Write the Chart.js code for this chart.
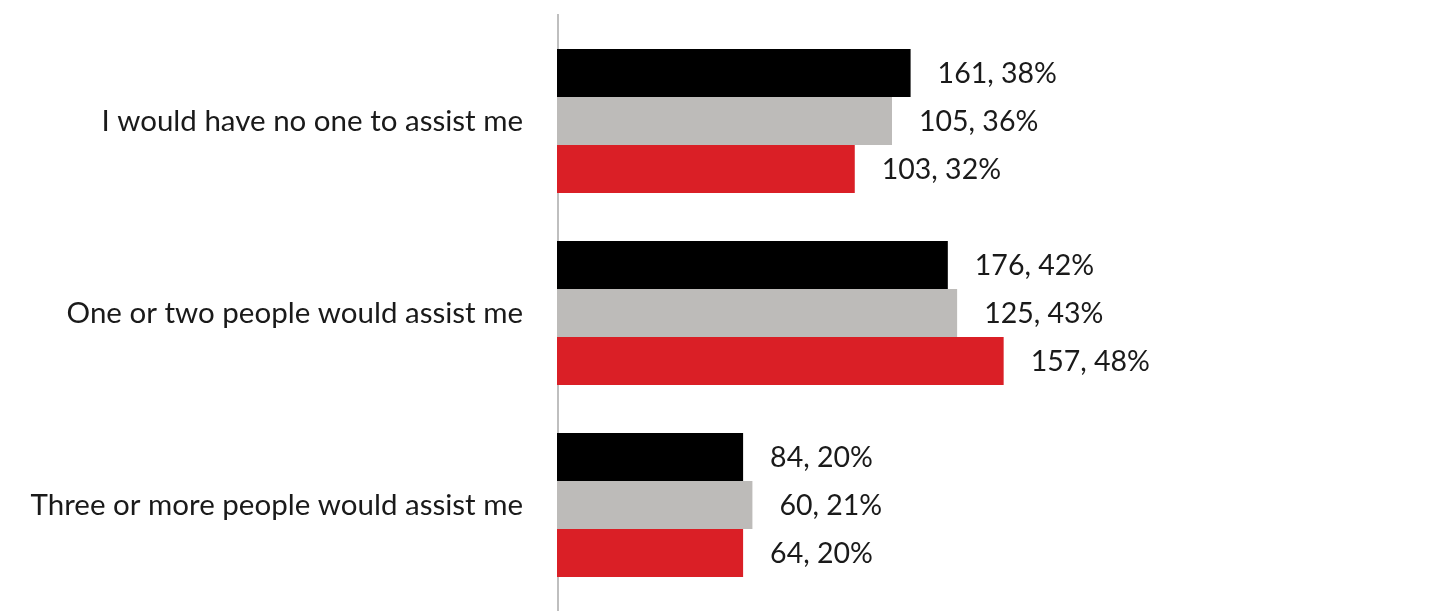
<!DOCTYPE html>
<html>
<head>
<meta charset="utf-8">
<script src="https://cdn.jsdelivr.net/npm/chart.js@4"></script>
<style>
  html, body { margin: 0; padding: 0; background: #fff; }
  #wrap { width: 1454px; height: 614px; }
</style>
</head>
<body>
<div id="wrap"><canvas id="myChart"></canvas></div>
<script>
const categories = ['I would have no one to assist me', 'One or two people would assist me', 'Three or more people would assist me'];
const seriesNames = ['Group A', 'Group B', 'Group C'];
const pctA = [38, 42, 20];
const pctB = [36, 43, 21];
const pctC = [32, 48, 20];
const countA = [161, 176, 84];
const countB = [105, 125, 60];
const countC = [103, 157, 64];

const FONT = 'Lato';

const data = {
  labels: categories,
  datasets: [
    { label: seriesNames[0], data: pctA, counts: countA, backgroundColor: '#000000' },
    { label: seriesNames[1], data: pctB, counts: countB, backgroundColor: '#bdbbb9' },
    { label: seriesNames[2], data: pctC, counts: countC, backgroundColor: '#da1f26' },
  ],
};

// grey axis line, a bit longer than the plot area
const axisLine = {
  id: 'axisLine',
  beforeDatasetsDraw(chart) {
    const { ctx, chartArea } = chart;
    ctx.save();
    ctx.strokeStyle = '#bfbfbf';
    ctx.lineWidth = 2;
    ctx.beginPath();
    ctx.moveTo(chartArea.left + 1, chartArea.top - 11);
    ctx.lineTo(chartArea.left + 1, chartArea.bottom + 10);
    ctx.stroke();
    ctx.restore();
  },
};

// "count, pct%" after each bar
const valueLabels = {
  id: 'valueLabels',
  afterDatasetsDraw(chart) {
    const { ctx } = chart;
    ctx.save();
    ctx.font = '28.5px ' + FONT;
    ctx.fillStyle = '#1a1a1a';
    ctx.textAlign = 'left';
    ctx.textBaseline = 'middle';
    chart.data.datasets.forEach((ds, i) => {
      chart.getDatasetMeta(i).data.forEach((bar, j) => {
        ctx.fillText(ds.counts[j] + ', ' + ds.data[j] + '%', bar.x + 27, bar.y + 1);
      });
    });
    ctx.restore();
  },
};

const config = {
  type: 'bar',
  data: data,
  options: {
    indexAxis: 'y',
    responsive: true,
    maintainAspectRatio: false,
    animation: false,
    layout: { padding: { top: 25, bottom: 13, right: 13, left: 0 } },
    datasets: { bar: { categoryPercentage: 0.75, barPercentage: 1 } },
    scales: {
      x: { display: false, min: 0, max: 95 },
      y: {
        afterFit(scale) {
          scale.width = 557;
          scale.paddingTop = 0;
          scale.paddingBottom = 0;
        },
        grid: { display: false },
        border: { display: false },
        ticks: { padding: 26, color: '#1a1a1a', font: { family: FONT, size: 29.5 } },
      },
    },
    plugins: {
      legend: { display: false },
      tooltip: { enabled: false },
    },
  },
  plugins: [axisLine, valueLabels],
};

const myChart = new Chart(document.getElementById('myChart'), config);
</script>
</body>
</html>
